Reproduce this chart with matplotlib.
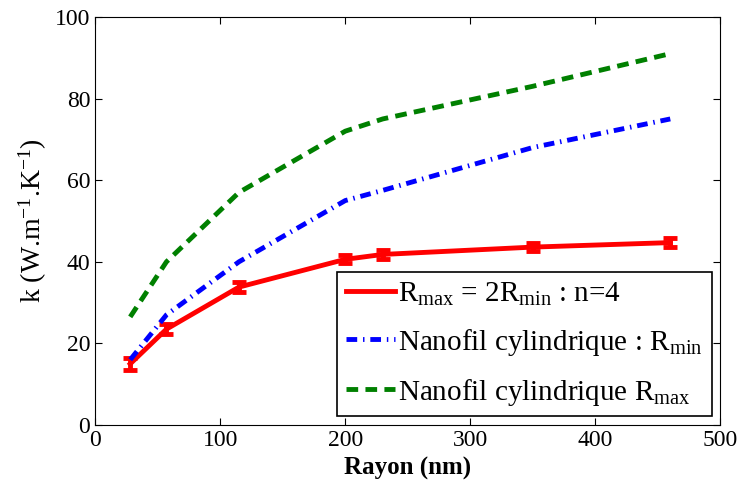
import matplotlib
matplotlib.use("Agg")
import matplotlib.pyplot as plt

plt.rcParams['font.family'] = ['Liberation Serif', 'DejaVu Serif']
plt.rcParams['mathtext.fontset'] = 'custom'
plt.rcParams['mathtext.rm'] = 'Liberation Serif'
plt.rcParams['mathtext.it'] = 'Liberation Serif:italic'

rayon = [28, 57, 115, 200, 230, 350, 460]
k_n4 = [15.0, 23.5, 33.8, 40.6, 41.8, 43.6, 44.7]
k_err = [1.5, 1.3, 1.2, 1.0, 1.0, 1.0, 1.1]
k_rmin = [16, 27, 40, 55, 57.5, 68, 75]
k_rmax = [26.5, 40, 57, 72, 75, 83, 91]

fig = plt.figure(figsize=(7.38, 4.83), dpi=100)
ax = fig.add_axes([0.129, 0.12, 0.847, 0.845])

ax.errorbar(rayon, k_n4, yerr=k_err, fmt='none', ecolor='red', elinewidth=3.5,
            capsize=5, capthick=3.5)
ax.plot(rayon, k_n4, color='red', lw=3.5,
        label=r'R$_{\rm max}$ = 2R$_{\rm min}$ : n=4')
ax.plot(rayon, k_rmin, color='blue', lw=3.5, dashes=[2.2, 1.2, 0.3, 1.2],
        label=r'Nanofil cylindrique : R$_{\rm min}$')
ax.plot(rayon, k_rmax, color='green', lw=3.5, dashes=[2.4, 1.5],
        label=r'Nanofil cylindrique R$_{\rm max}$')

ax.set_xlim(0, 500)
ax.set_ylim(0, 100)
ax.set_xticks([0, 100, 200, 300, 400, 500])
ax.set_yticks([0, 20, 40, 60, 80, 100])
ax.tick_params(direction='in', top=True, right=True, labelsize=17, length=5)
ax.set_xlabel('Rayon (nm)', fontsize=18, fontweight='bold', labelpad=4)
ax.set_ylabel(r'k (W.m$^{-1}$.K$^{-1}$)', fontsize=20, labelpad=4)

leg = ax.legend(loc='lower right', fontsize=21, handlelength=1.7, handletextpad=0.1,
                fancybox=False, edgecolor='black', framealpha=1, borderaxespad=0.3,
                labelspacing=0.65, borderpad=0.3)
leg.get_frame().set_linewidth(1.2)

fig.savefig('out.png', dpi=100)
